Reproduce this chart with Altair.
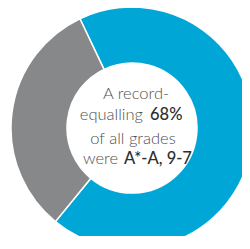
import math
import altair as alt
import pandas as pd

# Data
categories = ["A*-A, 9-7", "Other grades"]
shares = [68, 32]
order = [0, 1]

line1 = "A record-"
line2a = "equalling"
line2b = "68%"
line3 = "of all grades"
line4a = "were"
line4b = "A*-A, 9-7"

df = pd.DataFrame({"category": categories, "share": shares, "order": order})

start = math.radians(334.5)
cx, cy = 124, 120

donut = alt.Chart(df).mark_arc(
    outerRadius=121, innerRadius=65, stroke="white", strokeWidth=1.5,
    x=cx, y=cy
).encode(
    theta=alt.Theta("share:Q", stack=True,
                    scale=alt.Scale(range=[start, start + 2 * math.pi])),
    color=alt.Color("category:N", legend=None,
                    scale=alt.Scale(domain=categories, range=["#00A6D6", "#87888A"])),
    order=alt.Order("order:Q")
)

font = "Lato"
fs = 16.5

def t(s, x, y, align, weight, color):
    return alt.Chart(pd.DataFrame({"t": [s]})).mark_text(
        x=x, y=y, align=align, baseline="alphabetic", font=font, fontSize=fs,
        fontWeight=weight, color=color
    ).encode(text="t:N")

light = "#505050"
dark = "#2e2e2e"
texts = [
    t(line1, 128, 91, "center", 300, light),
    t(line2a, 135, 112, "right", 300, light),
    t(line2b, 142, 112, "left", 500, dark),
    t(line3, 125, 136, "center", 300, light),
    t(line4a, 110, 156, "right", 300, light),
    t(line4b, 116, 156, "left", 500, dark),
]

chart = alt.layer(donut, *texts).properties(
    width=234, height=228, padding=0, autosize="none"
).configure_view(stroke=None)

chart.save("out.html", embed_options={"renderer": "svg", "actions": False})
